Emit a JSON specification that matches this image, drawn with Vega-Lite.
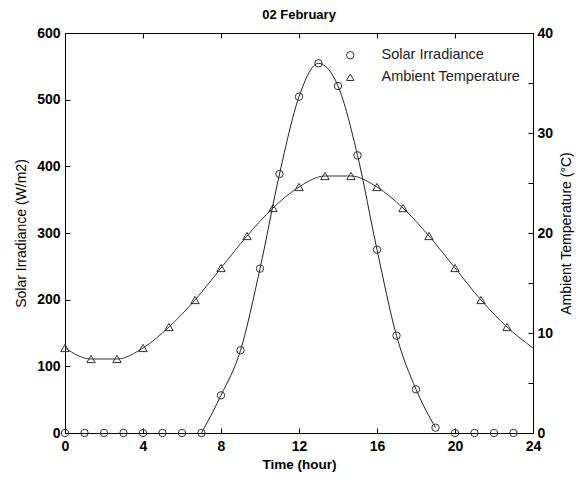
{
  "$schema": "https://vega.github.io/schema/vega-lite/v6.json",
  "autosize": "none",
  "width": 468,
  "height": 400,
  "padding": {"left": 65, "top": 33, "right": 46, "bottom": 44},
  "background": "white",
  "title": {"text": "02 February", "font": "Liberation Sans", "fontSize": 13, "fontWeight": "bold", "color": "black", "offset": 4, "anchor": "middle"},
  "config": {
    "view": {"stroke": "black", "strokeWidth": 1},
    "axis": {
      "labelFont": "Liberation Sans", "labelFontSize": 14, "labelFontWeight": "bold", "labelColor": "black",
      "titleFont": "Liberation Sans", "titleColor": "black", "titleFontSize": 14, "titleFontWeight": "normal",
      "domainColor": "black", "tickColor": "black", "grid": false, "tickSize": -5, "labelPadding": 10, "labelFlush": false
    },
    "legend": {"labelFont": "Liberation Sans", "labelFontSize": 14.5, "labelColor": "#222"}
  },
  "datasets": {
    "solar": [
      {"hour": 0, "irr": 0}, {"hour": 1, "irr": 0}, {"hour": 2, "irr": 0}, {"hour": 3, "irr": 0},
      {"hour": 4, "irr": 0}, {"hour": 5, "irr": 0}, {"hour": 6, "irr": 0}, {"hour": 7, "irr": 0},
      {"hour": 8, "irr": 56.5}, {"hour": 9, "irr": 124}, {"hour": 10, "irr": 246.5}, {"hour": 11, "irr": 388.5},
      {"hour": 12, "irr": 504.5}, {"hour": 13, "irr": 554.5}, {"hour": 14, "irr": 520.5}, {"hour": 15, "irr": 416.5},
      {"hour": 16, "irr": 275}, {"hour": 17, "irr": 146}, {"hour": 18, "irr": 65.5}, {"hour": 19, "irr": 8},
      {"hour": 20, "irr": 0}, {"hour": 21, "irr": 0}, {"hour": 22, "irr": 0}, {"hour": 23, "irr": 0}
    ],
    "temp": [
      {"hour": 0, "temp": 8.5}, {"hour": 1.333, "temp": 7.4}, {"hour": 2.667, "temp": 7.4}, {"hour": 4, "temp": 8.5},
      {"hour": 5.333, "temp": 10.6}, {"hour": 6.667, "temp": 13.3}, {"hour": 8, "temp": 16.5}, {"hour": 9.333, "temp": 19.7},
      {"hour": 10.667, "temp": 22.5}, {"hour": 12, "temp": 24.6}, {"hour": 13.333, "temp": 25.7}, {"hour": 14.667, "temp": 25.7},
      {"hour": 16, "temp": 24.6}, {"hour": 17.333, "temp": 22.5}, {"hour": 18.667, "temp": 19.7}, {"hour": 20, "temp": 16.5},
      {"hour": 21.333, "temp": 13.3}, {"hour": 22.667, "temp": 10.6}, {"hour": 24, "temp": 8.5}
    ]
  },
  "layer": [
    {
      "layer": [
        {
          "data": {"name": "solar"},
          "transform": [{"filter": "datum.hour >= 7 && datum.hour <= 19"}],
          "mark": {"type": "line", "interpolate": "monotone", "color": "#222", "strokeWidth": 1},
          "encoding": {
            "x": {"field": "hour", "type": "quantitative", "scale": {"domain": [0, 24], "nice": false},
                  "axis": {"orient": "bottom", "values": [0, 4, 8, 12, 16, 20, 24], "labelPadding": 11, "title": "Time (hour)", "titleFontWeight": "bold", "titleFontSize": 13.5, "titlePadding": 4}},
            "y": {"field": "irr", "type": "quantitative", "scale": {"domain": [0, 600], "nice": false},
                  "axis": {"orient": "left", "values": [0, 100, 200, 300, 400, 500, 600], "title": "Solar Irradiance (W/m2)", "titlePadding": 8}}
          }
        },
        {
          "data": {"name": "solar"},
          "mark": {"type": "point", "filled": false, "stroke": "#333", "strokeWidth": 1, "size": 55, "opacity": 1},
          "encoding": {
            "x": {"field": "hour", "type": "quantitative"},
            "y": {"field": "irr", "type": "quantitative"},
            "shape": {"datum": "Solar Irradiance",
                      "scale": {"domain": ["Solar Irradiance", "Ambient Temperature"], "range": ["circle", "triangle-up"]},
                      "legend": {"title": null, "orient": "none", "legendX": 278, "legendY": 15, "symbolStrokeColor": "#333", "symbolFillColor": "transparent", "symbolSize": 55, "symbolStrokeWidth": 1, "labelOffset": 24, "rowPadding": 7}}
          }
        }
      ]
    },
    {
      "layer": [
        {
          "data": {"name": "temp"},
          "mark": {"type": "line", "interpolate": "monotone", "color": "#333", "strokeWidth": 1},
          "encoding": {
            "x": {"field": "hour", "type": "quantitative", "scale": {"domain": [0, 24], "nice": false},
                  "axis": {"orient": "top", "values": [4, 8, 12, 16, 20], "labels": false, "title": null, "domain": false}},
            "y": {"field": "temp", "type": "quantitative", "scale": {"domain": [0, 40], "nice": false},
                  "axis": {"orient": "right", "values": [0, 5, 10, 15, 20, 25, 30, 35, 40], "labelExpr": "datum.value % 10 === 0 ? datum.label : ''",
                           "labelPadding": 9, "title": "Ambient Temperature (°C)", "titleAngle": -90, "titlePadding": 21}}
          }
        },
        {
          "data": {"name": "temp"},
          "transform": [{"filter": "datum.hour < 24"}],
          "mark": {"type": "point", "filled": false, "stroke": "#333", "strokeWidth": 1, "size": 70, "opacity": 1},
          "encoding": {
            "x": {"field": "hour", "type": "quantitative"},
            "y": {"field": "temp", "type": "quantitative"},
            "shape": {"datum": "Ambient Temperature"}
          }
        }
      ]
    }
  ],
  "resolve": {"scale": {"y": "independent"}, "axis": {"x": "independent"}}
}
